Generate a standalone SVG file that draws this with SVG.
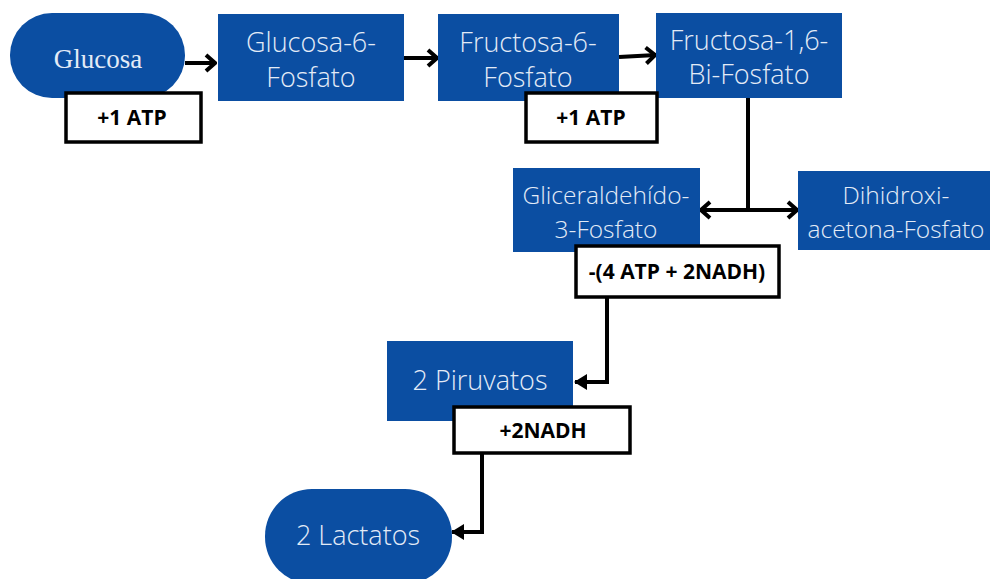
<svg xmlns="http://www.w3.org/2000/svg" width="994" height="579" viewBox="0 0 994 579">
<style>
.node{fill:#0b4ea2}
.nt{font-family:"Open Sans","Liberation Sans",sans-serif;font-weight:300;font-size:27px;fill:#e3ebf7;text-anchor:middle}
.sm{font-size:24.5px}
.st{font-family:"Liberation Serif",serif;font-size:27px;fill:#e3ebf7;text-anchor:middle}
.lb{fill:#fff;stroke:#000;stroke-width:3.5}
.lt{font-family:"Open Sans","Liberation Sans",sans-serif;font-weight:700;font-size:21px;fill:#000;text-anchor:middle}
.c{fill:none;stroke:#000;stroke-width:4}
</style>
<defs>
<marker id="chev" markerUnits="userSpaceOnUse" viewBox="0 0 13 20" refX="12" refY="10" markerWidth="13" markerHeight="20" orient="auto-start-reverse">
<path d="M2,2 L11,10 L2,18" fill="none" stroke="#000" stroke-width="4" stroke-linejoin="miter"/>
</marker>
<marker id="tri" markerUnits="userSpaceOnUse" viewBox="0 0 13 16" refX="12" refY="8" markerWidth="13" markerHeight="16" orient="auto">
<path d="M0,0 L13,8 L0,16 Z" fill="#000"/>
</marker>
</defs>
<g id="connectors">
<line class="c" x1="185" y1="63" x2="216" y2="63" marker-end="url(#chev)"/>
<line class="c" x1="404" y1="58" x2="438" y2="58" marker-end="url(#chev)"/>
<line class="c" x1="619" y1="57" x2="656" y2="55" marker-end="url(#chev)"/>
<line class="c" x1="748" y1="98" x2="748" y2="210"/>
<line class="c" x1="700" y1="210" x2="798" y2="210" marker-start="url(#chev)" marker-end="url(#chev)"/>
<polyline class="c" points="607,297 607,382 575,382" marker-end="url(#tri)"/>
<polyline class="c" points="482,453 482,532 452,532" marker-end="url(#tri)"/>
</g>
<g id="glucosa"><rect class="node" x="10" y="13" width="175" height="85" rx="42" ry="42"/><text class="st" x="98" y="68">Glucosa</text></g>
<g id="glucosa6p"><rect class="node" x="218" y="14" width="186" height="87"/><text class="nt" x="311" y="52">Glucosa-6-</text><text class="nt" x="311" y="87">Fosfato</text></g>
<g id="fructosa6p"><rect class="node" x="438" y="14" width="181" height="87"/><text class="nt" x="528" y="52">Fructosa-6-</text><text class="nt" x="528" y="87">Fosfato</text></g>
<g id="fructosa16bp"><rect class="node" x="656" y="13" width="186" height="85"/><text class="nt" x="749" y="50">Fructosa-1,6-</text><text class="nt" x="749" y="84">Bi-Fosfato</text></g>
<g id="gliceraldehido"><rect class="node" x="513" y="168" width="187" height="84"/><text class="nt sm" x="606" y="204">Gliceraldehído-</text><text class="nt sm" x="606" y="238">3-Fosfato</text></g>
<g id="dihidroxi"><rect class="node" x="798" y="171" width="192" height="79"/><text class="nt sm" x="896" y="204">Dihidroxi-</text><text class="nt sm" x="896" y="238">acetona-Fosfato</text></g>
<g id="piruvatos"><rect class="node" x="387" y="341" width="186" height="80"/><text class="nt" x="480" y="390">2 Piruvatos</text></g>
<g id="lactatos"><rect class="node" x="265" y="489" width="187" height="95" rx="47" ry="47"/><text class="nt" x="358" y="545">2 Lactatos</text></g>
<g id="label-atp1"><rect class="lb" x="66" y="93" width="135" height="49"/><text class="lt" x="132" y="125">+1 ATP</text></g>
<g id="label-atp2"><rect class="lb" x="526" y="93" width="131" height="49"/><text class="lt" x="591" y="125">+1 ATP</text></g>
<g id="label-4atp"><rect class="lb" x="576" y="246" width="203" height="51"/><text class="lt" x="677" y="279">-(4 ATP + 2NADH)</text></g>
<g id="label-nadh"><rect class="lb" x="454" y="407" width="176" height="46"/><text class="lt" x="543" y="438">+2NADH</text></g>
</svg>
